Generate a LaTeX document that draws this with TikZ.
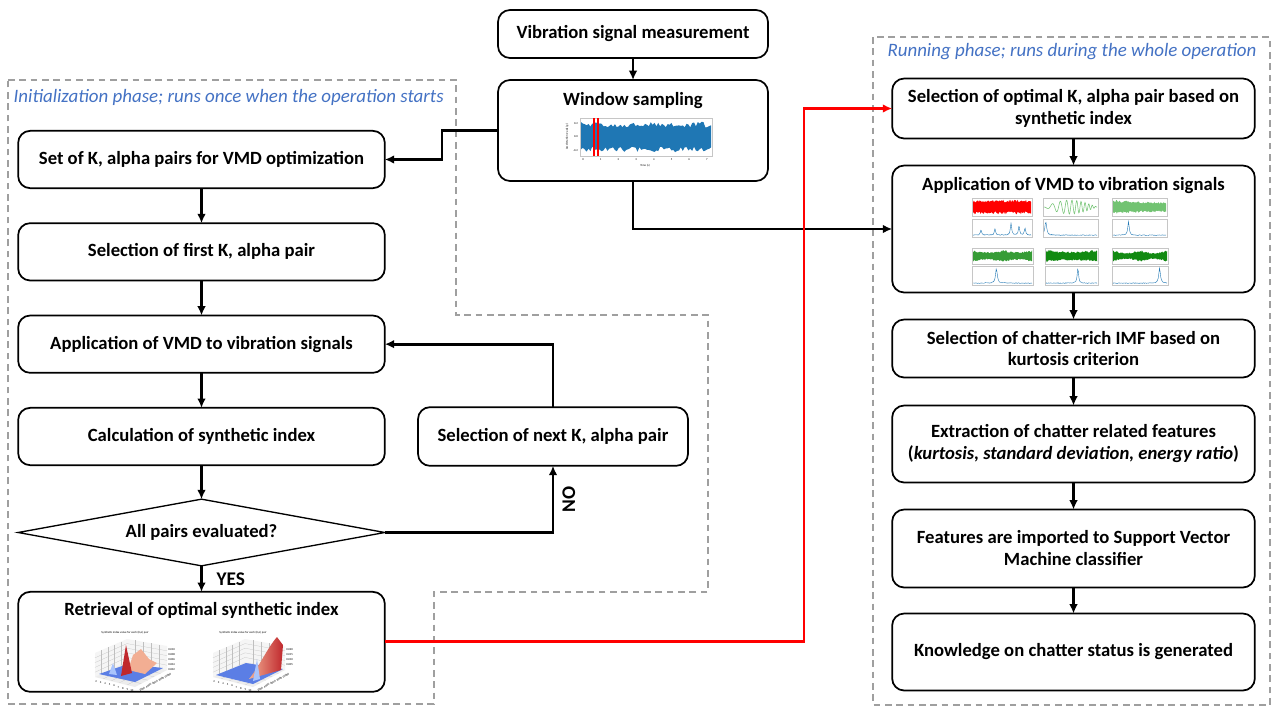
\documentclass[tikz,border=0pt]{standalone}
\usepackage{fontspec}
\setmainfont{Carlito}
\usetikzlibrary{positioning, calc, shapes.geometric, arrows.meta}

\definecolor{phaseblue}{HTML}{4472C4}
\definecolor{plotblue}{HTML}{1F77B4}
\definecolor{lgreen}{HTML}{72C372}
\definecolor{dgreen}{HTML}{128A12}
\definecolor{cwblue}{HTML}{5B7EE5}
\definecolor{cwlight}{HTML}{A9C4FC}
\definecolor{cwred}{HTML}{C0282D}
\definecolor{cwsalmon}{HTML}{F2AE93}

% noisy signal band in a small frame: x, y, width, height, colour, modulation, lobes
\newcommand{\noiseband}[7]{%
	\pgfmathsetmacro\nbA{#1+1}\pgfmathsetmacro\nbB{#1+#3-1}
	\fill[#5] plot[domain=\nbA:\nbB, samples=70] (\x, {#2+#4/2-#4*(0.25+0.15*rnd)*(1-#6*abs(sin(#7*180*((\x-#1)/#3))))})
		-- plot[domain=\nbB:\nbA, samples=70] (\x, {#2+#4/2+#4*(0.25+0.15*rnd)*(1-#6*abs(sin(#7*180*((\x-#1)/#3))))}) -- cycle;
	\draw[gray!45, line width=0.2pt] (#1,#2) rectangle ++(#3,#4);
}
% spectrum with one peak: x, y, width, height, peak position (0..1), peak width
\newcommand{\spectrum}[6]{%
	\pgfmathsetmacro\spA{#1+1}\pgfmathsetmacro\spB{#1+#3-1}
	\draw[gray!45, line width=0.2pt] (#1,#2) rectangle ++(#3,#4);
	\draw[plotblue, line width=0.3pt] plot[domain=\spA:\spB, samples=80] (\x, {#2+#4-1.5-0.7*rnd-(#4-4)/(1+((\x-#1-#5*#3)/#6)^2)});
}
% 3d axes box with grid and tick labels: x, y, z tick list
\newcommand{\plotframe}[3]{%
	\begin{scope}[shift={(#1,#2)}]
		\coordinate (lf) at (0,40); \coordinate (ff) at (40,50);
		\coordinate (rf) at (72,33); \coordinate (bf) at (32,25);
		\coordinate (lt) at (0,16); \coordinate (bt) at (32,2); \coordinate (rt) at (72,9);
		\fill[gray!8] (lf) -- (bf) -- (bt) -- (lt) -- cycle;
		\fill[gray!8] (bf) -- (rf) -- (rt) -- (bt) -- cycle;
		\fill[gray!14] (lf) -- (bf) -- (rf) -- (ff) -- cycle;
		\foreach \t in {0.2,0.4,0.6,0.8} {
			\draw[gray!50, line width=0.15pt] ($(lf)!\t!(bf)$) -- ($(lt)!\t!(bt)$);
			\draw[gray!50, line width=0.15pt] ($(bf)!\t!(rf)$) -- ($(bt)!\t!(rt)$);
			\draw[gray!50, line width=0.15pt] ($(lf)!\t!(lt)$) -- ($(bf)!\t!(bt)$) -- ($(rf)!\t!(rt)$);
			\draw[gray!50, line width=0.15pt] ($(lf)!\t!(bf)$) -- ($(ff)!\t!(rf)$);
			\draw[gray!50, line width=0.15pt] ($(lf)!\t!(ff)$) -- ($(bf)!\t!(rf)$);
		}
		\node[ticklbl] (ttl) at (30,-4) {Synthetic index value for each (K,α) pair};
		\foreach \k [count=\n] in {2,...,10}
			\node[ticklbl] (kt\n) at ($(lf)!{(\n-0.5)/9}!(ff)+(-1,4)$) {\k};
		\foreach \k [count=\n] in {2000,4000,6000,8000,10000}
			\node[ticklbl, rotate=30] (at\n) at ($(ff)!{(\n-0.5)/5}!(rf)+(4,4)$) {\k};
		\foreach \k [count=\n] in {#3}
			\node[ticklbl, anchor=west] (zt\n) at (73,{8+\n*5}) {\k};
	\end{scope}
}

\begin{document}
\begin{tikzpicture}[x=0.75pt, y=-0.75pt,
		pbox/.style={rectangle, draw, rounded corners=9pt, line width=1.3pt, outer sep=0pt, align=center, inner sep=2pt, font=\bfseries\fontsize{14}{16.5}\selectfont},
		lbox/.style={pbox, minimum width=275pt, minimum height=43pt},
		rbox/.style={pbox, minimum width=272pt, minimum height=44pt},
		mbox/.style={pbox, minimum width=202.5pt, minimum height=36pt},
		title/.style={font=\bfseries\fontsize{14}{16.5}\selectfont},
		decision/.style={diamond, draw, line width=1pt, outer sep=0pt, aspect=5.5, minimum width=275pt, minimum height=50pt, inner sep=0pt, font=\bfseries\fontsize{14}{16.5}\selectfont},
		phase/.style={text=phaseblue, font=\itshape\fontsize{14.2}{17}\selectfont},
		region/.style={draw=gray!75, line width=1pt, dash pattern=on 5pt off 3.5pt},
		flow/.style={->, line width=2.1pt},
		yesno/.style={font=\bfseries\fontsize{14.5}{16}\selectfont},
		ticklbl/.style={font=\fontsize{2.2}{3}\selectfont, inner sep=0pt},
		>={Latex[length=7pt, width=6.5pt]}
	]
	\pgfmathsetseed{11}
	\fill[white] (0,0) rectangle (1275,707);

	% phase borders
	\draw[region] (8,80) -- (456,80) -- (456,315) -- (708,315) -- (708,592) -- (434,592) -- (434,704) -- (8,704) -- cycle;
	\draw[region] (873,37) rectangle (1270,705);
	\node[phase, anchor=west] (initlbl) at (9,97) {Initialization phase; runs once when the operation starts};
	\node[phase] (runlbl) at (1072,52) {Running phase; runs during the whole operation};

	% middle column
	\node[mbox] (meas) at (633,34) {Vibration signal measurement};
	\node[mbox, minimum height=75.75pt, below=16.5pt of meas] (win) {};
	\node[title, below=6pt of win.north] (wintitle) {Window sampling};

	% initialization phase
	\node[lbox] (set) at (201.5,159.5) {Set of K, alpha pairs for VMD optimization};
	\node[lbox, below=26.25pt of set] (first) {Selection of first K, alpha pair};
	\node[lbox, below=26.25pt of first] (appl) {Application of VMD to vibration signals};
	\node[lbox, below=26.25pt of appl] (calc) {Calculation of synthetic index};
	\node[decision, below=25.5pt of calc] (check) {All pairs evaluated?};
	\node[lbox, minimum height=75pt, below=19.5pt of check] (retr) {};
	\node[title, below=4.5pt of retr.north] (retrtitle) {Retrieval of optimal synthetic index};
	\node[mbox, minimum height=44pt] (next) at (553,436.5) {Selection of next K, alpha pair};

	% running phase
	\node[rbox, minimum height=45pt] (opt) at (1073.5,108.5) {Selection of optimal K, alpha pair based on\\synthetic index};
	\node[rbox, minimum height=95.25pt, below=20.25pt of opt] (vmd) {};
	\node[title, below=5pt of vmd.north] (vmdtitle) {Application of VMD to vibration signals};
	\node[rbox, minimum height=43.5pt, below=20.25pt of vmd] (imf) {Selection of chatter-rich IMF based on\\kurtosis criterion};
	\node[rbox, minimum height=57.75pt, below=21pt of imf] (feat) {Extraction of chatter related features\\({\itshape kurtosis, standard deviation, energy ratio})};
	\node[rbox, minimum height=58.5pt, below=20.25pt of feat] (svm) {Features are imported to Support Vector\\Machine classifier};
	\node[rbox, minimum height=57.75pt, below=19.5pt of svm] (know) {Knowledge on chatter status is generated};

	% sampled signal
	\noiseband{580}{118}{132}{38}{plotblue}{0}{1}
	\draw[red, line width=0.9pt] (594,118) -- (594,156) (598,118) -- (598,156);
	\foreach \t in {0,...,7}
		\node[ticklbl] (wt\t) at ({583+\t*17.7},160) {\t};
	\node[ticklbl, anchor=east] (wy1) at (578,124) {0.2};
	\node[ticklbl, anchor=east] (wy2) at (578,137) {0.0};
	\node[ticklbl, anchor=east] (wy3) at (578,151) {-0.2};
	\node[ticklbl] (wxl) at (645,166) {Time (s)};
	\node[ticklbl, rotate=90] (wyl) at (567,137) {Acceleration x-axis (g)};

	% decomposed modes
	\noiseband{972}{198}{60}{18}{red}{0}{1}
	\draw[gray!45, line width=0.2pt] (1043,198) rectangle ++(55,18);
	\draw[lgreen, line width=0.4pt] plot[domain=1044:1097, samples=120] (\x, {207+7*sin(25*(\x-1044)*(1+(\x-1044)/30))*sin(180*((\x-1044)/53))});
	\noiseband{1112}{198}{55}{18}{lgreen}{0.3}{0.5}
	\noiseband{972}{248}{61}{16}{dgreen!85!white}{0.35}{2}
	\noiseband{1045}{248}{53}{16}{dgreen}{0.3}{1}
	\noiseband{1112}{248}{56}{16}{dgreen}{0.5}{2}
	\draw[gray!45, line width=0.2pt] (972,219) rectangle ++(60,18);
	\draw[plotblue, line width=0.3pt] plot[domain=973:1031, samples=120] (\x, {235.5-0.7*rnd-5/(1+((\x-981)/0.8)^2)-6/(1+((\x-995)/0.8)^2)-12/(1+((\x-1011)/0.8)^2)-9/(1+((\x-1019)/0.8)^2)-7/(1+((\x-1025)/0.8)^2)});
	\spectrum{1043}{219}{55}{18}{0.05}{1}
	\spectrum{1112}{219}{55}{18}{0.3}{0.8}
	\spectrum{972}{266}{61}{19}{0.4}{1}
	\spectrum{1045}{266}{53}{19}{0.62}{0.8}
	\spectrum{1112}{266}{56}{19}{0.85}{1}

	% synthetic index surfaces
	\plotframe{95}{637}{0.010,0.008,0.006,0.004,0.002}
	\begin{scope}[shift={(95,637)}]
		\fill[cwblue] (4,37) -- (33,27) -- (68,31) -- (40,45) -- cycle;
		\fill[cwlight] (14,37) -- (18,26) -- (22,38) -- cycle;
		\fill[cwsalmon] (33,33) -- (38,18) -- (46,12) -- (54,22) -- (62,26) -- (50,37) -- cycle;
		\fill[cwred] (26,39) -- (31,8) -- (37,36) -- cycle;
	\end{scope}
	\plotframe{213}{637}{0.020,0.015,0.010,0.005}
	\begin{scope}[shift={(213,637)}]
		\fill[cwblue] (3,38) -- (33,26) -- (70,32) -- (40,47) -- cycle;
		\shade[left color=cwsalmon, right color=cwred] (36,42) .. controls (46,30) and (55,10) .. (64,0) -- (70,8) -- (68,33) -- cycle;
		\fill[cwlight] (40,44) -- (44,22) -- (47,42) -- cycle;
	\end{scope}

	% connectors
	\draw[flow] (meas) -- (win);
	\draw[flow] (win.west) -- ++(-56,0) |- (set);
	\draw[flow] (win) |- (vmd);
	\foreach \i/\j in {set/first, first/appl, appl/calc, calc/check}
		\draw[flow] (\i) -- (\j);
	\draw[flow] (check) -- node[right=7pt, yesno] (yes) {YES} (retr);
	\draw[flow] (check.east) -| node[pos=0.75, rotate=90, anchor=north, inner sep=6pt, yesno] (no) {NO} (next);
	\draw[flow] (next) |- (appl);
	\foreach \i/\j in {opt/vmd, vmd/imf, imf/feat, feat/svm, svm/know}
		\draw[flow] (\i) -- (\j);
	\coordinate (redturn) at (804,400);
	\draw[flow, red] (retr) -| (redturn |- opt.west) -- (opt);

\end{tikzpicture}
\end{document}
